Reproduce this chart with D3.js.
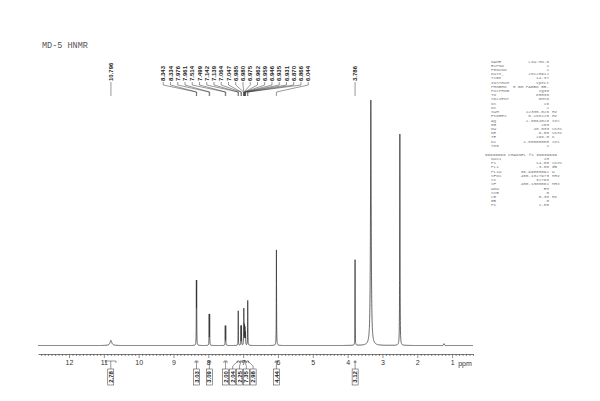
<!DOCTYPE html>
<html>
<head>
<meta charset="utf-8">
<script src="https://cdn.jsdelivr.net/npm/d3@7"></script>
<style>
  body { margin: 0; background: #fff; }
  svg { display: block; }
</style>
</head>
<body>
<div id="chart"></div>
<script>
// peak list (ppm, height in % of plot, half width in ppm)
const peakPpm    = [10.796, 8.343, 8.334, 7.976, 7.961, 7.514, 7.499, 7.142, 7.139, 7.064, 7.047,
                    6.985, 6.980, 6.975, 6.962, 6.959, 6.946, 6.935, 6.931, 6.870, 6.866, 6.044,
                    3.786, 3.333, 2.509, 2.5045, 2.500, 2.4955, 2.491, 1.235];
const peakHeight = [1.7, 19.8, 19.8, 10.1, 10.1, 6.35, 6.35, 7.2, 7.2, 6.4, 6.4,
                    4.8, 9.6, 4.8, 4.0, 4.0, 5.5, 3.0, 3.0, 10.7, 10.7, 31.8,
                    28.5, 81.7, 3, 14, 57, 14, 3, 0.6];
const peakWidth  = [0.03, 0.003, 0.003, 0.003, 0.003, 0.003, 0.003, 0.003, 0.003, 0.003, 0.003,
                    0.003, 0.003, 0.003, 0.003, 0.003, 0.003, 0.003, 0.003, 0.003, 0.003, 0.004,
                    0.003, 0.012, 0.004, 0.004, 0.004, 0.004, 0.004, 0.01];

const shiftLabels = ["10.796", "8.343", "8.334", "7.976", "7.961", "7.514", "7.499", "7.142", "7.139",
                     "7.064", "7.047", "6.985", "6.980", "6.975", "6.962", "6.959", "6.946", "6.935",
                     "6.931", "6.870", "6.866", "6.044", "3.786"];

const integralValues = ["2.78", "3.03", "3.09", "2.00", "2.04", "2.25", "7.35", "2.98", "4.44", "3.12"];
const integralFrom   = [10.95, 8.38, 8.01, 7.55, 7.17, 7.09, 7.00, 6.90, 6.08, 3.81];
const integralTo     = [10.65, 8.30, 7.93, 7.46, 7.11, 7.02, 6.92, 6.84, 6.01, 3.76];

const majorTicks = [12, 11, 10, 9, 8, 7, 6, 5, 4, 3, 2, 1];

const paramNames  = ["NAME", "EXPNO", "PROCNO", "Date_", "Time", "INSTRUM", "PROBHD", "PULPROG", "TD",
                     "SOLVENT", "NS", "DS", "SWH", "FIDRES", "AQ", "RG", "DW", "DE", "TE", "D1", "TD0"];
const paramValues = ["LIW-MD-5", "1", "1", "20120912", "14.37", "spect", "5 mm PABBO BB-", "zg30", "65536",
                     "DMSO", "16", "2", "12335.526", "0.188225", "2.6564028", "203", "40.533", "6.50",
                     "298.0", "1.00000000", "1"];
const paramUnits  = ["", "", "", "", "", "", "", "", "", "", "", "", "Hz", "Hz", "sec", "", "usec", "usec",
                     "K", "sec", ""];
const chanNames  = ["NUC1", "P1", "PL1", "PL1W", "SFO1", "SI", "SF", "WDW", "SSB", "LB", "GB", "PC"];
const chanValues = ["1H", "14.00", "-3.00", "36.99000092", "400.1327973", "32768", "400.1300061", "EM",
                    "0", "0.30", "0", "1.00"];
const chanUnits  = ["", "usec", "dB", "W", "MHz", "", "MHz", "", "", "Hz", "", ""];

function spread(items, gap) {
  // group overlapping labels and centre each group on the mean of its targets
  let groups = items.map(function(d) { return {members: [d], center: d.target}; });
  let merged = true;
  while (merged) {
    merged = false;
    for (let i = 0; i < groups.length - 1; i++) {
      let a = groups[i], b = groups[i + 1];
      let aEnd = a.center + (a.members.length - 1) * gap / 2;
      let bStart = b.center - (b.members.length - 1) * gap / 2;
      if (bStart - aEnd < gap) {
        let m = a.members.concat(b.members);
        groups.splice(i, 2, {members: m, center: d3.mean(m, function(d) { return d.target; })});
        merged = true;
        break;
      }
    }
  }
  groups.forEach(function(g) {
    g.members.forEach(function(d, i) {
      d.pos = g.center + (i - (g.members.length - 1) / 2) * gap;
    });
  });
}

function drawChart() {
  var width = 600, height = 401;
  var svg = d3.select("#chart").append("svg")
      .attr("width", width)
      .attr("height", height)
      .attr("style", "background-color: #ffffff;");

  var x = d3.scaleLinear().domain([12.89, 0.4]).range([38, 473]);
  var y = d3.scaleLinear().domain([0, 100]).range([345.5, 45]);

  // title
  svg.append("text")
    .attr("x", 42).attr("y", 48)
    .style("font-family", "Liberation Mono, monospace")
    .style("font-size", "8.5px")
    .style("fill", "#555")
    .text("MD-5 HNMR");

  // spectrum
  var pts = d3.range(12.89, 0.4, -0.0015).concat(peakPpm);
  pts.sort(function(a, b) { return b - a; });
  var spec = pts.map(function(p) {
    var s = 0;
    for (var i = 0; i < peakPpm.length; i++) {
      var t = (p - peakPpm[i]) / peakWidth[i];
      s += peakHeight[i] / (1 + t * t);
    }
    return [p, s];
  });
  var line = d3.line()
    .x(function(d) { return x(d[0]); })
    .y(function(d) { return y(d[1]); });
  svg.append("path")
    .datum(spec)
    .attr("d", line)
    .attr("fill", "none")
    .attr("stroke", "#333")
    .attr("stroke-width", 0.75);

  // axis
  var minorTicks = d3.range(128, 3, -1).map(function(v) { return v / 10; })
    .filter(function(v) { return Math.abs(v - Math.round(v)) > 1e-6; });
  var axisG = svg.append("g")
    .attr("class", "xAxis")
    .attr("transform", "translate(0,354)")
    .call(d3.axisBottom(x).tickValues(majorTicks).tickSize(4).tickSizeOuter(0).tickPadding(2)
      .tickFormat(d3.format("d")));
  svg.append("g")
    .attr("transform", "translate(0,354)")
    .call(d3.axisBottom(x).tickValues(minorTicks).tickSize(2).tickSizeOuter(0).tickFormat(""))
    .select(".domain").remove();
  svg.selectAll(".tick line").attr("stroke", "#444").attr("stroke-width", 0.6);
  axisG.select(".domain").attr("stroke", "#444").attr("stroke-width", 0.7);
  axisG.selectAll(".tick text")
    .style("font-family", "Liberation Sans, Arial, sans-serif")
    .style("font-size", "7px")
    .style("fill", "#333");
  svg.append("text")
    .attr("x", 465).attr("y", 366)
    .attr("text-anchor", "middle")
    .style("font-family", "Liberation Sans, Arial, sans-serif")
    .style("font-size", "7px")
    .style("fill", "#333")
    .text("ppm");

  // peak labels
  var labs = shiftLabels.map(function(s) { return {text: s, target: x(+s)}; });
  spread(labs, 7.25);
  var lg = svg.append("g");
  labs.forEach(function(d) {
    lg.append("text")
      .attr("transform", "translate(" + d.pos + ",81) rotate(-90)")
      .attr("dy", "0.35em")
      .style("font-family", "Liberation Sans, Arial, sans-serif")
      .style("font-size", "6px")
      .style("font-weight", "bold")
      .style("fill", "#222")
      .text(d.text);
    lg.append("path")
      .attr("d", "M" + d.pos + ",82 L" + d.pos + ",85 L" + d.target + ",92 L" + d.target + ",96")
      .attr("fill", "none")
      .attr("stroke", "#333")
      .attr("stroke-width", 0.5);
  });

  // integrals
  var ints = integralValues.map(function(v, i) {
    return {text: v, x1: x(integralFrom[i]), x2: x(integralTo[i]),
            target: (x(integralFrom[i]) + x(integralTo[i])) / 2};
  });
  spread(ints, 6.8);
  var ig = svg.append("g");
  ints.forEach(function(d) {
    ig.append("path")
      .attr("d", "M" + d.x1 + ",363 L" + d.x1 + ",361 L" + d.x2 + ",361 L" + d.x2 + ",363")
      .attr("fill", "none").attr("stroke", "#333").attr("stroke-width", 0.5);
    ig.append("path")
      .attr("d", "M" + d.target + ",361 L" + d.pos + ",366 L" + d.pos + ",369")
      .attr("fill", "none").attr("stroke", "#333").attr("stroke-width", 0.5);
    ig.append("rect")
      .attr("x", d.pos - 3).attr("y", 369)
      .attr("width", 6).attr("height", 16)
      .attr("fill", "none").attr("stroke", "#333").attr("stroke-width", 0.5);
    ig.append("text")
      .attr("transform", "translate(" + d.pos + ",377) rotate(-90)")
      .attr("dy", "0.35em")
      .attr("text-anchor", "middle")
      .style("font-family", "Liberation Sans, Arial, sans-serif")
      .style("font-size", "6px")
      .style("font-weight", "bold")
      .style("fill", "#222")
      .text(d.text);
  });

  // acquisition parameters
  var pg = svg.append("g")
    .style("font-family", "Liberation Mono, monospace")
    .style("font-size", "4.3px")
    .style("fill", "#777");
  function block(names, values, units, y0) {
    names.forEach(function(n, i) {
      var yy = y0 + i * 4.22;
      pg.append("text").attr("x", 491).attr("y", yy).text(n);
      pg.append("text").attr("x", 549).attr("y", yy).attr("text-anchor", "end").text(values[i]);
      if (units[i]) pg.append("text").attr("x", 552).attr("y", yy).text(units[i]);
    });
  }
  block(paramNames, paramValues, paramUnits, 62.5);
  pg.append("text").attr("x", 521).attr("y", 155.5).attr("text-anchor", "middle")
    .text("======== CHANNEL f1 ========");
  block(chanNames, chanValues, chanUnits, 160);
}

drawChart();
</script>
</body>
</html>
